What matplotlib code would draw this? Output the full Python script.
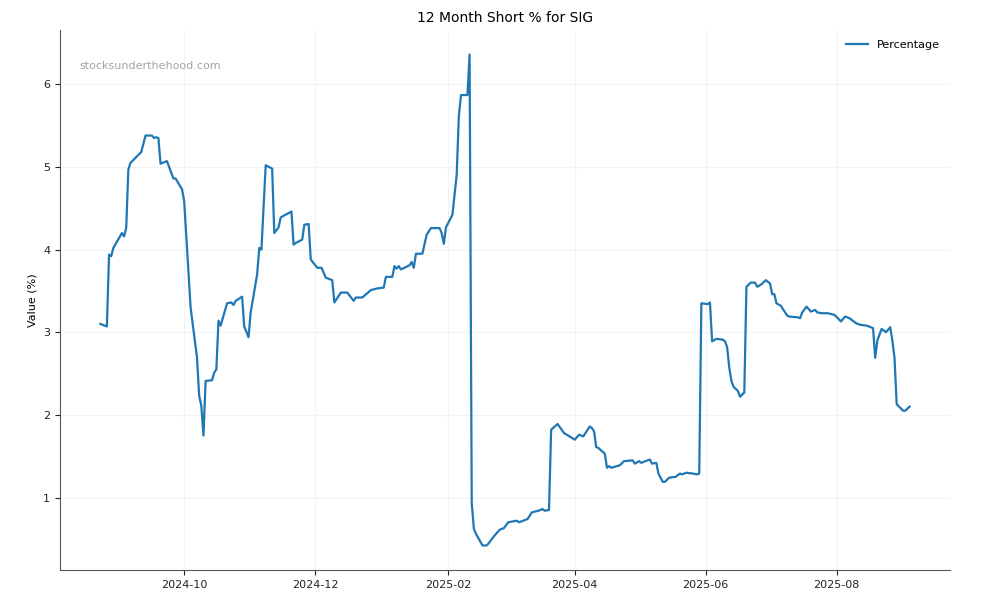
import matplotlib
matplotlib.use("Agg")
import matplotlib.pyplot as plt
import matplotlib.dates as mdates
import pandas as pd

# values (short interest, % of float)
dates = [
    "2024-08-23", "2024-08-26", "2024-08-27", "2024-08-28", "2024-08-29", "2024-09-02",
    "2024-09-03", "2024-09-04", "2024-09-05", "2024-09-06", "2024-09-11", "2024-09-13",
    "2024-09-16", "2024-09-17", "2024-09-18", "2024-09-19", "2024-09-20", "2024-09-23",
    "2024-09-26", "2024-09-27", "2024-09-30", "2024-10-01", "2024-10-04", "2024-10-07",
    "2024-10-08", "2024-10-09", "2024-10-10", "2024-10-11", "2024-10-14", "2024-10-15",
    "2024-10-16", "2024-10-17", "2024-10-18", "2024-10-21", "2024-10-23", "2024-10-24",
    "2024-10-25", "2024-10-28", "2024-10-29", "2024-10-31", "2024-11-01", "2024-11-04",
    "2024-11-05", "2024-11-06", "2024-11-08", "2024-11-11", "2024-11-12", "2024-11-14",
    "2024-11-15", "2024-11-20", "2024-11-21", "2024-11-22", "2024-11-25", "2024-11-26",
    "2024-11-28", "2024-11-29", "2024-12-02", "2024-12-04", "2024-12-06", "2024-12-09",
    "2024-12-10", "2024-12-13", "2024-12-16", "2024-12-19", "2024-12-20", "2024-12-23",
    "2024-12-27", "2024-12-30", "2025-01-02", "2025-01-03", "2025-01-06", "2025-01-07",
    "2025-01-08", "2025-01-09", "2025-01-10", "2025-01-14", "2025-01-15", "2025-01-16",
    "2025-01-17", "2025-01-20", "2025-01-22", "2025-01-24", "2025-01-28", "2025-01-29",
    "2025-01-30", "2025-01-31", "2025-02-03", "2025-02-04", "2025-02-05", "2025-02-06",
    "2025-02-07", "2025-02-10", "2025-02-11", "2025-02-12", "2025-02-13", "2025-02-14",
    "2025-02-17", "2025-02-19", "2025-02-20", "2025-02-22", "2025-02-25", "2025-02-27",
    "2025-03-01", "2025-03-05", "2025-03-06", "2025-03-10", "2025-03-12", "2025-03-15",
    "2025-03-17", "2025-03-18", "2025-03-20", "2025-03-21", "2025-03-24", "2025-03-27",
    "2025-04-01", "2025-04-03", "2025-04-05", "2025-04-08", "2025-04-09", "2025-04-10",
    "2025-04-11", "2025-04-12", "2025-04-15", "2025-04-16", "2025-04-17", "2025-04-18",
    "2025-04-22", "2025-04-24", "2025-04-28", "2025-04-29", "2025-05-01", "2025-05-02",
    "2025-05-04", "2025-05-06", "2025-05-07", "2025-05-09", "2025-05-10", "2025-05-12",
    "2025-05-13", "2025-05-15", "2025-05-18", "2025-05-20", "2025-05-21", "2025-05-23",
    "2025-05-26", "2025-05-28", "2025-05-29", "2025-05-30", "2025-06-02", "2025-06-03",
    "2025-06-04", "2025-06-06", "2025-06-09", "2025-06-10", "2025-06-11", "2025-06-12",
    "2025-06-13", "2025-06-14", "2025-06-16", "2025-06-17", "2025-06-19", "2025-06-20",
    "2025-06-22", "2025-06-24", "2025-06-25", "2025-06-27", "2025-06-29", "2025-07-01",
    "2025-07-02", "2025-07-03", "2025-07-04", "2025-07-06", "2025-07-07", "2025-07-09",
    "2025-07-10", "2025-07-14", "2025-07-15", "2025-07-16", "2025-07-18", "2025-07-20",
    "2025-07-22", "2025-07-23", "2025-07-25", "2025-07-28", "2025-07-31", "2025-08-02",
    "2025-08-03", "2025-08-05", "2025-08-07", "2025-08-10", "2025-08-12", "2025-08-15",
    "2025-08-18", "2025-08-19", "2025-08-20", "2025-08-22", "2025-08-24", "2025-08-26",
    "2025-08-27", "2025-08-28", "2025-08-29", "2025-09-01", "2025-09-02", "2025-09-04",
]
short_pct = [
    3.10, 3.07, 3.94, 3.92, 4.02, 4.20,
    4.16, 4.26, 4.97, 5.05, 5.18, 5.38,
    5.38, 5.35, 5.36, 5.35, 5.04, 5.07,
    4.86, 4.86, 4.73, 4.59, 3.30, 2.69,
    2.23, 2.11, 1.75, 2.41, 2.42, 2.51,
    2.55, 3.14, 3.08, 3.35, 3.36, 3.33,
    3.38, 3.43, 3.07, 2.94, 3.24, 3.70,
    4.02, 4.00, 5.02, 4.98, 4.20, 4.27,
    4.39, 4.46, 4.06, 4.08, 4.12, 4.30,
    4.31, 3.88, 3.78, 3.78, 3.66, 3.63,
    3.36, 3.48, 3.48, 3.38, 3.42, 3.42,
    3.51, 3.53, 3.54, 3.67, 3.67, 3.80,
    3.77, 3.80, 3.76, 3.81, 3.85, 3.78,
    3.95, 3.95, 4.18, 4.26, 4.26, 4.20,
    4.07, 4.27, 4.42, 4.67, 4.91, 5.62,
    5.87, 5.87, 6.36, 0.93, 0.62, 0.56,
    0.42, 0.42, 0.45, 0.52, 0.61, 0.63,
    0.70, 0.72, 0.70, 0.74, 0.82, 0.84,
    0.86, 0.84, 0.85, 1.82, 1.89, 1.78,
    1.70, 1.76, 1.74, 1.86, 1.84, 1.80,
    1.61, 1.60, 1.53, 1.36, 1.38, 1.36,
    1.39, 1.44, 1.45, 1.41, 1.44, 1.42,
    1.44, 1.46, 1.41, 1.42, 1.29, 1.19,
    1.19, 1.24, 1.25, 1.29, 1.28, 1.30,
    1.29, 1.28, 1.29, 3.35, 3.34, 3.36,
    2.89, 2.92, 2.91, 2.89, 2.82, 2.57,
    2.41, 2.34, 2.29, 2.22, 2.27, 3.55,
    3.60, 3.60, 3.55, 3.58, 3.63, 3.59,
    3.46, 3.46, 3.35, 3.32, 3.28, 3.20,
    3.19, 3.18, 3.17, 3.24, 3.31, 3.25,
    3.27, 3.24, 3.23, 3.23, 3.21, 3.16,
    3.13, 3.19, 3.17, 3.11, 3.09, 3.08,
    3.05, 2.69, 2.90, 3.04, 3.00, 3.06,
    2.90, 2.69, 2.13, 2.05, 2.05, 2.10,
]
ticker = "SIG"

x = pd.to_datetime(dates)

fig = plt.figure(figsize=(10, 6), dpi=100)
ax = fig.add_axes([0.06, 0.05, 0.89, 0.90])

ax.plot(x, short_pct, color="#1f77b4", linewidth=1.6, label="Percentage")

ax.set_title(f"12 Month Short % for {ticker}", fontsize=10)
ax.set_ylabel("Value (%)", fontsize=8)
ax.tick_params(labelsize=8, colors="#222222")
ax.xaxis.set_major_locator(mdates.MonthLocator(bymonth=[2, 4, 6, 8, 10, 12]))
ax.xaxis.set_major_formatter(mdates.DateFormatter("%Y-%m"))

ax.grid(True, color="#f2f2f2", linewidth=0.8)
ax.set_axisbelow(True)
for side in ["top", "right"]:
    ax.spines[side].set_visible(False)
for side in ["left", "bottom"]:
    ax.spines[side].set_color("#555555")

ax.text(0.022, 0.927, "stocksunderthehood.com", transform=ax.transAxes,
        fontsize=8, color="#999999", alpha=0.9)
ax.legend(loc="upper right", frameon=False, fontsize=8)

fig.savefig("out.png", dpi=100)
